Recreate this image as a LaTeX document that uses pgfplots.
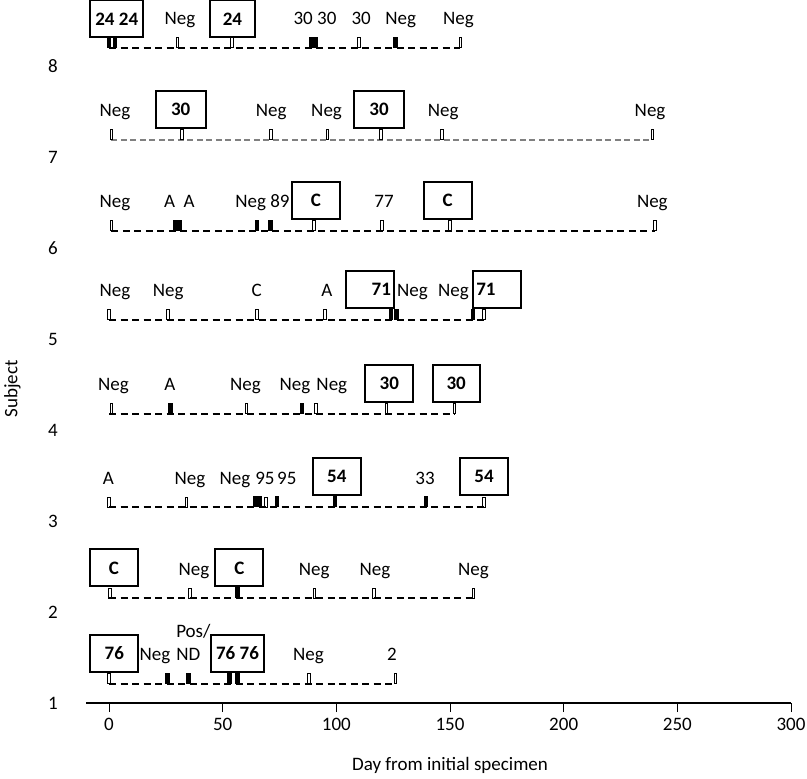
\documentclass[border=0pt]{standalone}
\usepackage{fontspec}
\setmainfont{Carlito}
\usepackage{pgfplots}
\pgfplotsset{compat=1.18}
\pgfdeclareplotmark{obar}{\pgfpathrectangle{\pgfpoint{-1.3pt}{0pt}}{\pgfpoint{2.6pt}{10pt}}\pgfusepathqstroke}
\pgfdeclareplotmark{fbar}{\pgfpathrectangle{\pgfpoint{-2.2pt}{0pt}}{\pgfpoint{4.4pt}{11pt}}\pgfusepathqfill}
\newcommand\lab[3]{\node[lbl] at (axis cs:#1,#2) {#3};}
\newcommand\bx[4][]{\node[bxs,#1] at (axis cs:#2,#3) {#4};}
\begin{document}
\begin{tikzpicture}[
  lbl/.style={anchor=base, yshift=23pt, inner sep=0pt, font=\fontsize{19}{21}\selectfont},
  bxs/.style={draw, line width=2pt, fill=white, minimum width=48pt, minimum height=37pt, yshift=30.5pt, inner sep=0pt, font=\fontsize{19}{21}\selectfont\bfseries},
  dl/.style={black, line width=1.8pt, dash pattern=on 7pt off 4.5pt},
  om/.style={only marks, mark=obar, mark options={line width=0.8pt, black, solid}},
  fm/.style={only marks, mark=fbar, mark options={black, solid}}]
\begin{axis}[at={(86.3pt,-703pt)}, anchor=south west, scale only axis,
  width=704.7pt, height=705.25pt, xmin=-10, xmax=300, ymin=1, ymax=8.75, clip=false,
  axis x line*=bottom, axis y line*=left,
  x axis line style={-, line width=1.3pt}, y axis line style={draw=none},
  xtick={0,50,...,300}, ytick={1,...,8}, tick align=outside, major tick length=9pt,
  xtick style={line width=1pt, black}, ytick style={draw=none},
  ticklabel style={font=\fontsize{19}{21}\selectfont},
  /pgf/number format/assume math mode=true,
  xticklabel style={yshift=-3pt}, yticklabel style={xshift=-16pt}]
% Row 8
\addplot[dl] coordinates {(0,8.2) (154.5,8.2)};
\addplot[om] coordinates {(30,8.2) (54,8.2) (110,8.2) (154.5,8.2)};
\addplot[fm] coordinates {(0,8.2) (2.5,8.2) (89,8.2) (91,8.2) (126,8.2)};
\bx[minimum width=53pt, yshift=-1.5pt]{3.4}{8.2}{24 24}
\lab{31.2}{8.2}{Neg}
\bx[minimum width=45pt, yshift=-1.5pt]{54.3}{8.2}{24}
\lab{90.6}{8.2}{30 30}
\lab{110.9}{8.2}{30}
\lab{128.3}{8.2}{Neg}
\lab{153.7}{8.2}{Neg}
% Row 7
\addplot[gray, line width=1.6pt, dash pattern=on 6pt off 3.5pt] coordinates {(1,7.19) (239,7.19)};
\addplot[om] coordinates {(1,7.19) (32,7.19) (71.3,7.19) (96,7.19) (119.5,7.19) (146.5,7.19) (239,7.19)};
\lab{2.6}{7.19}{Neg}
\bx[minimum width=50pt]{31.5}{7.19}{30}
\lab{71.3}{7.19}{Neg}
\lab{95.7}{7.19}{Neg}
\bx[minimum width=50pt]{118.8}{7.19}{30}
\lab{147}{7.19}{Neg}
\lab{238}{7.19}{Neg}
% Row 6
\addplot[dl] coordinates {(1,6.19) (240,6.19)};
\addplot[om] coordinates {(1,6.19) (90,6.19) (120,6.19) (150,6.19) (240,6.19)};
\addplot[fm] coordinates {(29,6.19) (31,6.19) (65,6.19) (71,6.19)};
\lab{2.6}{6.19}{Neg}
\lab{26.7}{6.19}{A}
\lab{35.2}{6.19}{A}
\lab{62.3}{6.19}{Neg}
\lab{75.2}{6.19}{89}
\bx{91}{6.19}{C}
\lab{121}{6.19}{77}
\bx{149}{6.19}{C}
\lab{239}{6.19}{Neg}
% Row 5
\addplot[dl] coordinates {(0,5.21) (165,5.21)};
\addplot[om] coordinates {(0,5.21) (26,5.21) (65,5.21) (95,5.21) (165,5.21)};
\addplot[fm] coordinates {(124,5.21) (126.5,5.21) (160,5.21)};
\lab{2.6}{5.21}{Neg}
\lab{26}{5.21}{Neg}
\lab{65}{5.21}{C}
\lab{95.8}{5.21}{A}
\bx[text width=42pt, align=right]{114.8}{5.21}{71}
\lab{133.5}{5.21}{Neg}
\lab{151.5}{5.21}{Neg}
\bx[text width=42pt, align=left]{170.8}{5.21}{71}
% Row 4
\addplot[dl] coordinates {(0,4.18) (152,4.18)};
\addplot[om] coordinates {(1,4.18) (60.5,4.18) (91,4.18) (122,4.18) (152,4.18)};
\addplot[fm] coordinates {(27,4.18) (85,4.18)};
\lab{1.9}{4.18}{Neg}
\lab{26.8}{4.18}{A}
\lab{60}{4.18}{Neg}
\lab{81.8}{4.18}{Neg}
\lab{98}{4.18}{Neg}
\bx{123.3}{4.18}{30}
\bx[minimum width=47pt]{152.7}{4.18}{30}
% Row 3
\addplot[dl] coordinates {(0,3.15) (165,3.15)};
\addplot[om] coordinates {(0,3.15) (34,3.15) (69,3.15) (165,3.15)};
\addplot[fm] coordinates {(64.5,3.15) (66.5,3.15) (74,3.15) (99.4,3.15) (139.5,3.15)};
\lab{-0.3}{3.15}{A}
\lab{35.6}{3.15}{Neg}
\lab{55.4}{3.15}{Neg}
\lab{68.6}{3.15}{95}
\lab{78.2}{3.15}{95}
\bx{100.2}{3.15}{54}
\lab{139}{3.15}{33}
\bx{165}{3.15}{54}
% Row 2
\addplot[dl] coordinates {(0,2.15) (160.3,2.15)};
\addplot[om] coordinates {(0.5,2.15) (35.6,2.15) (90.3,2.15) (116.6,2.15) (160.3,2.15)};
\addplot[fm] coordinates {(56.6,2.15)};
\bx{2.1}{2.15}{C}
\lab{37.4}{2.15}{Neg}
\bx{57.3}{2.15}{C}
\lab{90.3}{2.15}{Neg}
\lab{117}{2.15}{Neg}
\lab{160.3}{2.15}{Neg}
% Row 1
\addplot[dl] coordinates {(0,1.21) (126,1.21)};
\addplot[om] coordinates {(0,1.21) (88,1.21) (126,1.21)};
\addplot[fm] coordinates {(25.7,1.21) (35,1.21) (53,1.21) (56.5,1.21)};
\bx{2.3}{1.21}{76}
\lab{20.2}{1.21}{Neg}
\node[lbl, anchor=base west] at (axis cs:29.5,1.21) {ND};
\node[lbl, anchor=base west, yshift=23pt] at (axis cs:29.5,1.21) {Pos/};
\bx[minimum width=53pt]{56.5}{1.21}{76 76}
\lab{87.7}{1.21}{Neg}
\lab{124.4}{1.21}{2}
% axis titles
\node[font=\fontsize{19}{21}\selectfont] at (axis cs:150,1) [yshift=-62pt] {Day from initial specimen};
\node[font=\fontsize{19}{21}\selectfont, xshift=-74pt, rotate=90] at (axis cs:-10,4.45) {Subject};
\end{axis}
\pgfresetboundingbox
\useasboundingbox (0,0) rectangle (807pt,-779pt);
\end{tikzpicture}
\end{document}
